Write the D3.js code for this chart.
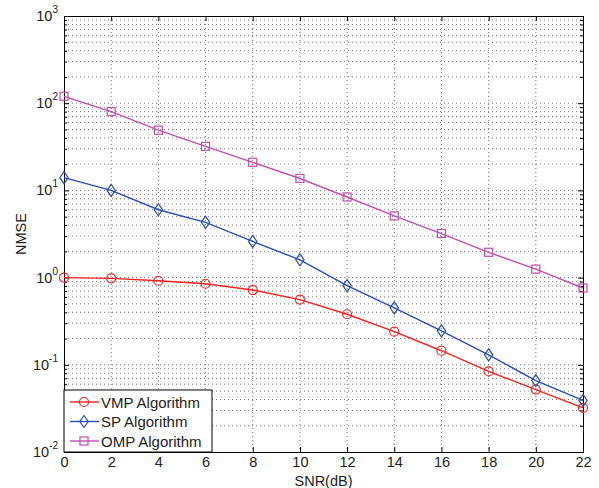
<!DOCTYPE html>
<html>
<head>
<meta charset="utf-8">
<script src="https://cdn.jsdelivr.net/npm/d3@7"></script>
<style>
  body { margin: 0; background: #fff; }
  svg { display: block; font-family: "Liberation Sans", Arial, sans-serif; }
  .grid line { stroke: #555; stroke-width: 0.8; stroke-dasharray: 1 3; }
</style>
</head>
<body>
<div id="chart"></div>
<script>
const snr = [0, 2, 4, 6, 8, 10, 12, 14, 16, 18, 20, 22];
const vmp = [1.0, 0.98, 0.92, 0.85, 0.72, 0.56, 0.38, 0.24, 0.145, 0.084, 0.052, 0.032];
const sp = [14.0, 10.0, 6.0, 4.3, 2.6, 1.6, 0.81, 0.45, 0.245, 0.13, 0.066, 0.039];
const omp = [120, 80, 49, 32, 21, 13.7, 8.4, 5.1, 3.2, 1.95, 1.25, 0.76];
const xTicks = [0, 2, 4, 6, 8, 10, 12, 14, 16, 18, 20, 22];
const yExps = [-2, -1, 0, 1, 2, 3];

const series = [
  { name: 'VMP Algorithm', values: vmp, color: '#ff2020', marker: 'circle' },
  { name: 'SP Algorithm', values: sp, color: '#2b4fae', marker: 'diamond' },
  { name: 'OMP Algorithm', values: omp, color: '#c04fb0', marker: 'square' },
];

const W = 599, H = 488;
const margin = { top: 16, right: 16, bottom: 36, left: 64 };
const width = W - margin.left - margin.right;
const height = H - margin.top - margin.bottom;
const fs = 14.5;

const svg = d3.select('#chart').append('svg')
  .attr('width', W).attr('height', H);

const chart = svg.append('g')
  .attr('transform', `translate(${margin.left}, ${margin.top})`);

const x = d3.scaleLinear().domain([0, 22]).range([0, width]);
const y = d3.scaleLog().domain([1e-2, 1e3]).range([height, 0]);

// minor + major log positions
const yGrid = [];
for (let e = -2; e < 3; e++) {
  for (let m = 1; m < 10; m++) yGrid.push(m * Math.pow(10, e));
}
yGrid.push(1e3);

const grid = chart.append('g').attr('class', 'grid');
grid.selectAll('.gy').data(yGrid.filter(v => v > 1e-2 && v < 1e3)).enter()
  .append('line')
  .attr('x1', 0).attr('x2', width)
  .attr('y1', d => y(d)).attr('y2', d => y(d));
grid.selectAll('.gx').data(xTicks.slice(1, -1)).enter()
  .append('line')
  .attr('y1', 0).attr('y2', height)
  .attr('x1', d => x(d)).attr('x2', d => x(d));

// axes, ticks pointing in
const tickLen = 5;
const axB = chart.append('g').attr('transform', `translate(0, ${height})`)
  .call(d3.axisBottom(x).tickValues(xTicks).tickSize(-tickLen).tickPadding(5));
const axT = chart.append('g')
  .call(d3.axisTop(x).tickValues(xTicks).tickSize(-tickLen).tickFormat(''));
const axL = chart.append('g')
  .call(d3.axisLeft(y).tickValues(yGrid).tickSize(0).tickFormat(''));
const axR = chart.append('g').attr('transform', `translate(${width}, 0)`)
  .call(d3.axisRight(y).tickValues(yGrid).tickSize(0).tickFormat(''));

[axL, axR].forEach((ax, i) => {
  ax.selectAll('.tick line')
    .attr('x2', d => {
      const major = Math.abs(Math.log10(d) - Math.round(Math.log10(d))) < 1e-9;
      const len = major ? tickLen : 3;
      return i === 0 ? len : -len;
    });
});

[axB, axT, axL, axR].forEach(ax => {
  ax.select('.domain').attr('stroke', '#000').attr('stroke-width', 1);
  ax.selectAll('.tick line').attr('stroke', '#000');
});
axB.selectAll('.tick text').attr('font-size', fs).attr('fill', '#222');

// y tick labels as 10^n
const yl = chart.append('g');
yExps.forEach(e => {
  const t = yl.append('text')
    .attr('x', -6).attr('y', y(Math.pow(10, e)) + 5)
    .attr('text-anchor', 'end')
    .attr('font-size', fs).attr('fill', '#222');
  t.append('tspan').text('10');
  t.append('tspan').attr('dy', -8).attr('font-size', 10).text(e);
});

const line = d3.line().x((d, i) => x(snr[i])).y(d => y(d));

const drawMarker = (g, type, color) => {
  if (type === 'circle') {
    g.append('circle').attr('r', 4.5);
  } else if (type === 'diamond') {
    g.append('path').attr('d', 'M0,-6L4.2,0L0,6L-4.2,0Z');
  } else {
    g.append('rect').attr('x', -4).attr('y', -4).attr('width', 8).attr('height', 8);
  }
  g.selectAll('*').attr('fill', 'none').attr('stroke', color).attr('stroke-width', 1.2);
};

series.forEach(s => {
  chart.append('path')
    .datum(s.values)
    .attr('fill', 'none')
    .attr('stroke', s.color)
    .attr('stroke-width', 1.4)
    .attr('d', line);
  s.values.forEach((v, i) => {
    const g = chart.append('g').attr('transform', `translate(${x(snr[i])}, ${y(v)})`);
    drawMarker(g, s.marker, s.color);
  });
});

// legend
const lg = chart.append('g').attr('transform', `translate(0, ${height - 62})`);
lg.append('rect').attr('width', 148).attr('height', 62)
  .attr('fill', '#fff').attr('stroke', '#000').attr('stroke-width', 1);
series.forEach((s, i) => {
  const cy = 12 + i * 19.5;
  lg.append('line').attr('x1', 6).attr('x2', 35).attr('y1', cy).attr('y2', cy)
    .attr('stroke', s.color).attr('stroke-width', 1.4);
  const g = lg.append('g').attr('transform', `translate(20, ${cy})`);
  drawMarker(g, s.marker, s.color);
  lg.append('text').attr('x', 37).attr('y', cy + 5.5)
    .attr('font-size', 15).attr('fill', '#222').text(s.name);
});

svg.append('text')
  .attr('x', margin.left + width / 2).attr('y', H - 2)
  .attr('text-anchor', 'middle').attr('font-size', fs).attr('fill', '#222')
  .text('SNR(dB)');

svg.append('text')
  .attr('transform', `translate(26, ${margin.top + height / 2}) rotate(-90)`)
  .attr('text-anchor', 'middle').attr('font-size', fs).attr('fill', '#222')
  .text('NMSE');
</script>
</body>
</html>
